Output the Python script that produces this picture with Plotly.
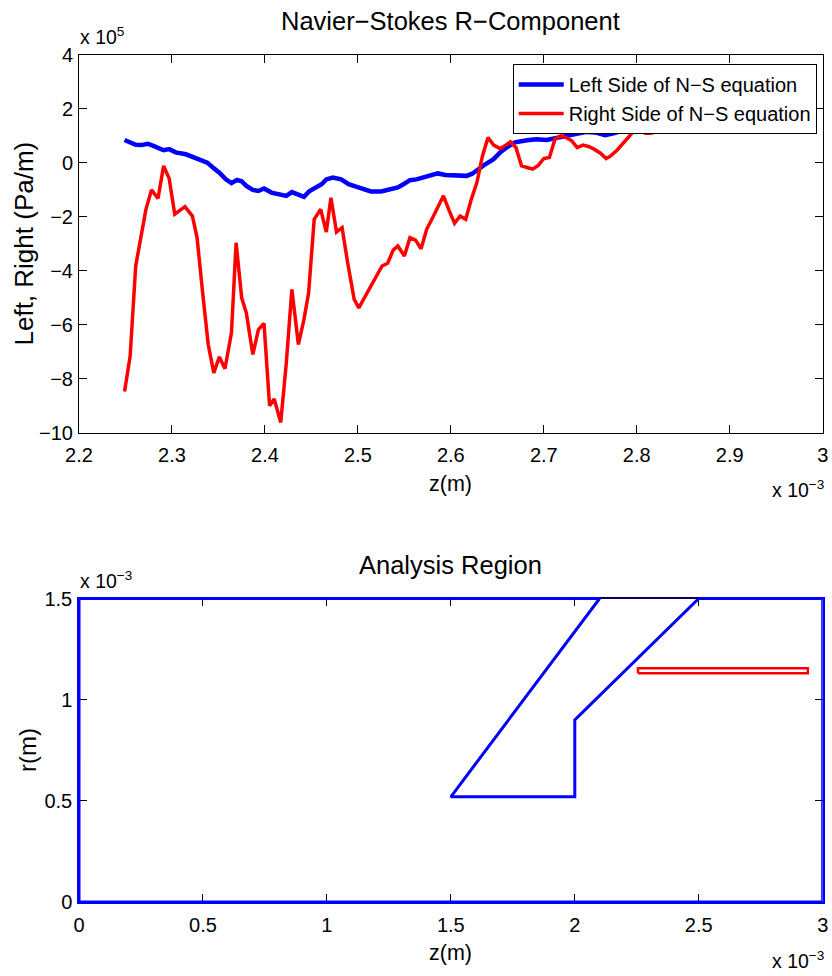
import plotly.graph_objects as go

# ---------------- data (z in 1e-3 m, values in 1e5 Pa/m) ----------------
z_left = [2.249, 2.255, 2.261, 2.267, 2.274, 2.280, 2.286, 2.291, 2.297, 2.304,
          2.315, 2.324, 2.333, 2.338, 2.344, 2.351, 2.358, 2.364, 2.370, 2.375,
          2.380, 2.387, 2.393, 2.399, 2.407, 2.416, 2.423, 2.429, 2.436, 2.442,
          2.448, 2.455, 2.461, 2.466, 2.473, 2.482, 2.490, 2.498, 2.507, 2.514,
          2.525, 2.534, 2.543, 2.549, 2.556, 2.563, 2.572, 2.579, 2.586, 2.594,
          2.603, 2.610, 2.617, 2.623, 2.630, 2.637, 2.646, 2.653, 2.660, 2.669,
          2.682, 2.692, 2.703, 2.714, 2.725, 2.735, 2.746, 2.755, 2.766, 2.775,
          2.784, 2.791, 2.800, 2.820, 2.850, 2.880, 2.910, 2.940]
left_side = [0.85, 0.76, 0.67, 0.66, 0.71, 0.63, 0.56, 0.47, 0.51, 0.39,
             0.32, 0.20, 0.11, 0.01, -0.17, -0.36, -0.61, -0.75, -0.63, -0.68,
             -0.85, -1.00, -1.04, -0.95, -1.10, -1.16, -1.22, -1.08, -1.16, -1.26,
             -1.04, -0.91, -0.79, -0.61, -0.54, -0.61, -0.79, -0.88, -0.98, -1.06,
             -1.06, -1.00, -0.91, -0.79, -0.64, -0.61, -0.52, -0.48, -0.39, -0.45,
             -0.45, -0.46, -0.48, -0.40, -0.21, -0.05, 0.14, 0.39, 0.57, 0.76,
             0.84, 0.88, 0.85, 0.92, 0.98, 1.07, 1.15, 1.13, 1.03, 1.10,
             1.19, 1.25, 1.30, 1.38, 1.45, 1.55, 1.62, 1.70]

z_right = [2.249, 2.255, 2.261, 2.267, 2.272, 2.278, 2.285, 2.291, 2.297, 2.303,
           2.314, 2.322, 2.327, 2.333, 2.339, 2.345, 2.351, 2.357, 2.364, 2.369,
           2.375, 2.380, 2.387, 2.393, 2.399, 2.405, 2.410, 2.417, 2.423, 2.429,
           2.436, 2.442, 2.447, 2.453, 2.460, 2.466, 2.471, 2.477, 2.483, 2.489,
           2.496, 2.501, 2.507, 2.515, 2.521, 2.526, 2.532, 2.538, 2.543, 2.550,
           2.556, 2.562, 2.568, 2.574, 2.580, 2.586, 2.592, 2.598, 2.604, 2.610,
           2.616, 2.622, 2.628, 2.634, 2.640, 2.646, 2.653, 2.659, 2.664, 2.670,
           2.676, 2.682, 2.688, 2.694, 2.700, 2.706, 2.712, 2.718, 2.724, 2.730,
           2.736, 2.742, 2.748, 2.754, 2.761, 2.767, 2.772, 2.779, 2.785, 2.791,
           2.797, 2.803, 2.809, 2.815, 2.821, 2.826, 2.850, 2.880, 2.910, 2.940]
right_side = [-8.47, -7.17, -3.82, -2.71, -1.72, -1.00, -1.32, -0.11, -0.58, -1.90,
              -1.62, -1.97, -2.77, -4.81, -6.73, -7.78, -7.19, -7.63, -6.30, -2.96,
              -5.00, -5.56, -7.10, -6.18, -5.95, -9.00, -8.75, -9.62, -7.41, -4.69,
              -6.73, -5.80, -4.81, -2.09, -1.72, -2.56, -1.29, -2.56, -2.40, -3.70,
              -5.06, -5.37, -5.00, -4.50, -4.10, -3.82, -3.72, -3.23, -3.08, -3.45,
              -2.77, -2.86, -3.18, -2.46, -2.06, -1.62, -1.22, -1.75, -2.24, -1.97,
              -2.09, -1.35, -0.73, 0.26, 0.94, 0.66, 0.53, 0.66, 0.78, 0.57,
              -0.11, -0.17, -0.23, -0.09, 0.16, 0.20, 0.88, 1.00, 0.94, 0.82,
              0.57, 0.66, 0.61, 0.51, 0.36, 0.16, 0.26, 0.48, 0.73, 0.94,
              1.19, 1.31, 1.10, 1.10, 1.15, 1.23, 1.50, 1.80, 1.60, 1.90]

# analysis region outline (z, r in 1e-3 m)
region_z = [0, 3, 3, 2.5, 2.0, 2.0, 1.5, 2.1, 0, 0]
region_r = [0, 0, 1.5, 1.5, 0.9, 0.52, 0.52, 1.5, 1.5, 0]
box_z = [2.255, 2.94, 2.94, 2.255, 2.255]
box_r = [1.13, 1.13, 1.155, 1.155, 1.13]
gap_z = [2.1, 2.5]   # part of the top border not covered by the region outline

series_names = ["Left Side of N\u2212S equation", "Right Side of N\u2212S equation"]

FONT = "Liberation Sans, Arial, Helvetica, sans-serif"

W, H = 832, 976
def px(xp):
    return xp / W
def py(yp):
    return (H - yp) / H

fig = go.Figure()
fig.add_trace(go.Scatter(x=z_left, y=left_side, mode="lines", name=series_names[0],
                         line=dict(color="#0000ff", width=4.5), xaxis="x", yaxis="y"))
fig.add_trace(go.Scatter(x=z_right, y=right_side, mode="lines", name=series_names[1],
                         line=dict(color="#ff0000", width=3.5), xaxis="x", yaxis="y"))
fig.add_trace(go.Scatter(x=region_z, y=region_r, mode="lines", showlegend=False,
                         line=dict(color="#0000ff", width=3), xaxis="x2", yaxis="y2"))
fig.add_trace(go.Scatter(x=box_z, y=box_r, mode="lines", showlegend=False,
                         line=dict(color="#ff0000", width=2.5), xaxis="x2", yaxis="y2"))

def axis_common(linecolor="black", linewidth=1, standoff=0):
    return dict(showline=True, linecolor=linecolor, linewidth=linewidth, mirror="allticks",
                ticks="inside", ticklen=8, tickcolor="black", tickwidth=1,
                showgrid=False, zeroline=False, automargin=False,
                ticklabelstandoff=standoff,
                tickfont=dict(family=FONT, size=20, color="black"))

x_dom = [px(79), px(822.7)]
top_edge2 = 598.5
fig.update_layout(
    width=W, height=H, autosize=False,
    margin=dict(l=0, r=0, t=0, b=0, pad=0),
    paper_bgcolor="white", plot_bgcolor="white",
    showlegend=True,
    xaxis=dict(domain=x_dom, range=[2.2, 3.0], tick0=2.2, dtick=0.1, anchor="y",
               **axis_common(standoff=4)),
    yaxis=dict(domain=[py(432.7), py(55)], range=[-10, 4], tick0=-10, dtick=2, anchor="x",
               **axis_common(standoff=1)),
    xaxis2=dict(domain=x_dom, range=[0, 3], tick0=0, dtick=0.5, anchor="y2", layer="below traces",
                **axis_common("#0000ff", 1.5, standoff=4)),
    yaxis2=dict(domain=[py(902), py(top_edge2)], range=[0, 1.5], tick0=0, dtick=0.5, anchor="x2",
                layer="below traces", **axis_common("#0000ff", 1.5, standoff=1)),
    legend=dict(x=px(816.7), xanchor="right", y=py(64), yanchor="top",
                bgcolor="white", bordercolor="black", borderwidth=1,
                font=dict(family=FONT, size=20, color="black"),
                itemwidth=45, tracegroupgap=0),
    shapes=[dict(type="line", xref="x2", yref="paper",
                 x0=gap_z[0], x1=gap_z[1], y0=py(top_edge2 - 0.6), y1=py(top_edge2 - 0.6),
                 line=dict(color="black", width=1.4), layer="above")],
)

ann = []
cx = (79 + 822.7) / 2
def add(text, xp, yp, size, xanchor="center", yanchor="middle", angle=0):
    ann.append(dict(text=text, x=px(xp), y=py(yp), xref="paper", yref="paper",
                    xanchor=xanchor, yanchor=yanchor, showarrow=False, textangle=angle,
                    font=dict(family=FONT, size=size, color="black")))

add("Navier\u2212Stokes R\u2212Component", cx, 21, 25.5)
add("Analysis Region", cx, 565, 25.5)
add("z(m)", cx, 484, 21.5)
add("z(m)", cx, 953, 21.5)
add("Left, Right (Pa/m)", 23.5, 244, 26, angle=-90)
add("r(m)", 27, 750, 24, angle=-90)
add("x 10<sup>5</sup>", 78, 50, 19.5, xanchor="left", yanchor="bottom")
add("x 10<sup>\u22123</sup>", 78, 594, 19.5, xanchor="left", yanchor="bottom")
add("x 10<sup>\u22123</sup>", 770, 503, 19.5, xanchor="left", yanchor="bottom")
add("x 10<sup>\u22123</sup>", 770, 974, 19.5, xanchor="left", yanchor="bottom")
fig.update_layout(annotations=ann)

fig.write_html("out.html")
